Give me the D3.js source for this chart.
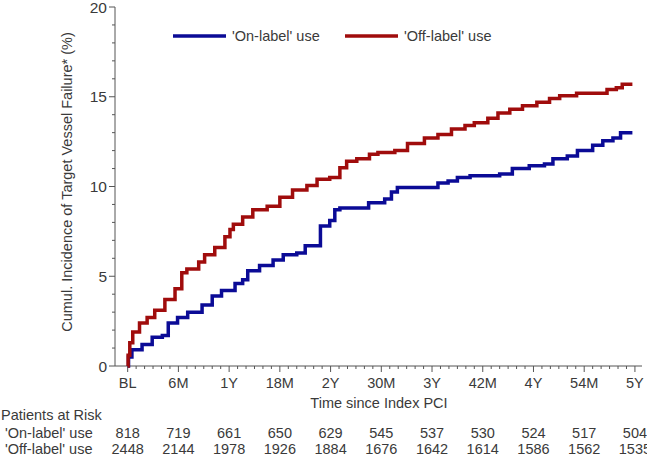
<!DOCTYPE html>
<html>
    <head>
        <meta charset="utf-8">
        <title>Target vessel failure by label use</title>
        <style type="text/css">
            body {
                margin: 0;
                background-color: #ffffff;
            }

            svg {
                display: block;
            }

            text {
                font-family: "Liberation Sans", Arial, sans-serif;
                font-size: 14.5px;
                fill: #3a3a3a;
            }
        </style>
        <script src="https://d3js.org/d3.v7.min.js"></script>
    </head>

    <body>
        <svg id="chart" width="647" height="456"></svg>

        <script>
            // time points (months) and cumulative incidence (%)
            const onMonths = [0, 0.1, 0.5, 1.7, 2.9, 4.1, 4.8, 5.9, 7.1, 8.8, 10.0, 11.1, 12.7, 13.6, 14.2, 15.6, 17.2, 18.4, 20.0, 21.0, 22.8, 23.9, 24.5, 25.1, 28.5, 30.4, 31.2, 31.9, 36.7, 37.9, 39.0, 40.5, 44.0, 45.5, 47.5, 49.3, 50.3, 52.0, 53.2, 55.0, 56.2, 57.4, 58.3, 59.7];
            const onValues = [0, 0.5, 0.9, 1.2, 1.6, 1.7, 2.4, 2.7, 3.0, 3.4, 3.9, 4.2, 4.6, 4.8, 5.3, 5.6, 5.9, 6.2, 6.3, 6.7, 7.8, 8.1, 8.7, 8.8, 9.1, 9.3, 9.7, 9.95, 10.2, 10.3, 10.5, 10.6, 10.7, 11.0, 11.15, 11.25, 11.55, 11.7, 12.0, 12.3, 12.55, 12.7, 13.0, 13.0];

            const offMonths = [0, 0.05, 0.25, 0.6, 1.4, 2.3, 3.2, 4.4, 5.6, 6.4, 7.0, 8.4, 9.1, 10.3, 11.5, 12.1, 12.5, 13.6, 14.8, 16.5, 18.0, 19.5, 21.2, 22.4, 23.9, 25.1, 25.9, 27.1, 28.6, 29.6, 31.6, 33.1, 35.1, 36.7, 38.3, 39.9, 41.0, 42.6, 43.8, 45.2, 46.7, 48.4, 49.9, 51.1, 53.1, 55.5, 56.7, 57.8, 58.5, 59.7];
            const offValues = [0, 0.6, 1.3, 1.9, 2.4, 2.7, 3.1, 3.7, 4.3, 5.2, 5.4, 5.8, 6.2, 6.6, 7.2, 7.6, 7.9, 8.3, 8.7, 8.9, 9.4, 9.8, 10.05, 10.4, 10.5, 11.05, 11.4, 11.55, 11.8, 11.9, 12.0, 12.4, 12.7, 12.9, 13.2, 13.4, 13.55, 13.8, 14.1, 14.3, 14.5, 14.7, 14.9, 15.05, 15.2, 15.2, 15.4, 15.5, 15.7, 15.7];

            const tickMonths = [0, 6, 12, 18, 24, 30, 36, 42, 48, 54, 60];
            const tickLabels = ["BL", "6M", "1Y", "18M", "2Y", "30M", "3Y", "42M", "4Y", "54M", "5Y"];

            const seriesNames = ["'On-label' use", "'Off-label' use"];
            const riskOn = [818, 719, 661, 650, 629, 545, 537, 530, 524, 517, 504];
            const riskOff = [2448, 2144, 1978, 1926, 1884, 1676, 1642, 1614, 1586, 1562, 1535];

            const colours = ["#0b0b96", "#a00c0c"];
            const axisColour = "#555555";

            const svg = d3.select("#chart");

            const x = d3.scaleLinear().domain([-1.5, 60.6]).range([115, 640]);
            const y = d3.scaleLinear().domain([0, 20]).range([366, 7]);

            // y axis: minor ticks every 1, labels every 5
            const yAxis = svg.append("g").attr("transform", "translate(115,0)");
            yAxis.append("line")
                .attr("x1", 0).attr("x2", 0)
                .attr("y1", y(20)).attr("y2", y(0))
                .attr("stroke", axisColour);
            yAxis.selectAll("line.tick")
                .data(d3.range(0, 21))
                .join("line")
                .attr("class", "tick")
                .attr("x1", d => d % 5 === 0 ? -6 : -3)
                .attr("x2", 0)
                .attr("y1", d => y(d)).attr("y2", d => y(d))
                .attr("stroke", axisColour);
            yAxis.selectAll("text")
                .data([0, 5, 10, 15, 20])
                .join("text")
                .attr("x", -8)
                .attr("y", d => y(d))
                .attr("dy", "0.36em")
                .attr("text-anchor", "end")
                .style("font-size", "15.5px")
                .text(d => d);

            svg.append("text")
                .attr("transform", "translate(72,182) rotate(-90)")
                .attr("text-anchor", "middle")
                .text("Cumul. Incidence of Target Vessel Failure* (%)");

            // x axis: minor ticks every month, labels every 6 months
            const xAxis = svg.append("g").attr("transform", `translate(0,${y(0)})`);
            xAxis.append("line")
                .attr("x1", 115).attr("x2", 642)
                .attr("y1", 0).attr("y2", 0)
                .attr("stroke", axisColour);
            xAxis.selectAll("line.tick")
                .data(d3.range(0, 61))
                .join("line")
                .attr("class", "tick")
                .attr("x1", d => x(d)).attr("x2", d => x(d))
                .attr("y1", 0)
                .attr("y2", d => d % 6 === 0 ? 6 : 3)
                .attr("stroke", axisColour);
            xAxis.selectAll("text")
                .data(tickMonths)
                .join("text")
                .attr("x", d => x(d))
                .attr("y", 22)
                .attr("text-anchor", "middle")
                .text((d, i) => tickLabels[i]);

            svg.append("text")
                .attr("x", 379)
                .attr("y", 408)
                .attr("text-anchor", "middle")
                .text("Time since Index PCI");

            // curves
            const line = d3.line()
                .x(d => x(d[0]))
                .y(d => y(d[1]))
                .curve(d3.curveStepAfter);

            const series = [
                d3.zip(onMonths, onValues),
                d3.zip(offMonths, offValues)
            ];

            svg.selectAll("path.curve")
                .data(series)
                .join("path")
                .attr("class", "curve")
                .attr("d", line)
                .attr("fill", "none")
                .attr("stroke", (d, i) => colours[i])
                .attr("stroke-width", 3.5);

            // legend
            const legendX = [173, 345];
            const legend = svg.selectAll("g.legend")
                .data(seriesNames)
                .join("g")
                .attr("class", "legend")
                .attr("transform", (d, i) => `translate(${legendX[i]},36)`);
            legend.append("line")
                .attr("x1", 0).attr("x2", 53)
                .attr("y1", 0).attr("y2", 0)
                .attr("stroke", (d, i) => colours[i])
                .attr("stroke-width", 3.5);
            legend.append("text")
                .attr("x", 59)
                .attr("dy", "0.35em")
                .text(d => d);

            // patients at risk table
            svg.append("text")
                .attr("x", 1)
                .attr("y", 420)
                .text("Patients at Risk");

            const riskRows = [riskOn, riskOff];
            const rowY = [438, 454];
            riskRows.forEach((row, r) => {
                svg.append("text")
                    .attr("x", 5)
                    .attr("y", rowY[r])
                    .text(seriesNames[r]);
                svg.selectAll(null)
                    .data(row)
                    .join("text")
                    .attr("x", (d, i) => x(tickMonths[i]))
                    .attr("y", rowY[r])
                    .attr("text-anchor", "middle")
                    .text(d => d);
            });
        </script>
    </body>
</html>
